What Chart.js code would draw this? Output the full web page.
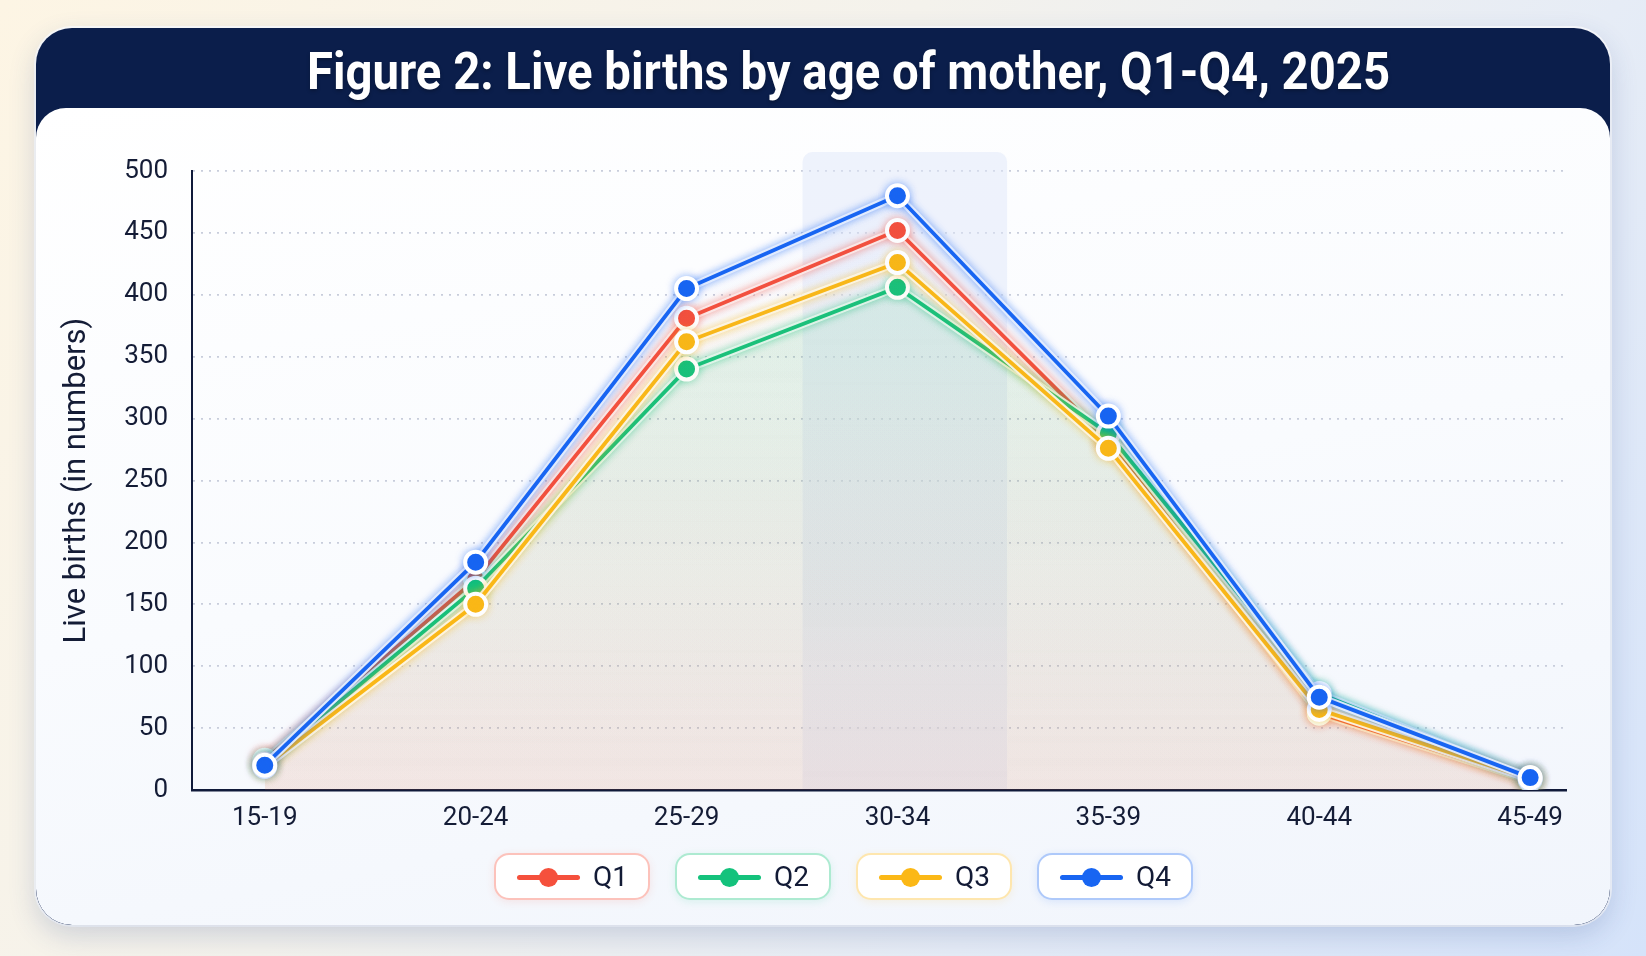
<!DOCTYPE html>
<html>
<head>
<meta charset="utf-8">
<script src="https://cdn.jsdelivr.net/npm/chart.js@4.4.1/dist/chart.umd.min.js"></script>
<style>
  html, body { margin:0; padding:0; }
  body {
    width:1646px; height:956px; overflow:hidden; position:relative;
    background: linear-gradient(125deg, #fdf5e4 0%, #f4f2ec 40%, #e6ecf6 70%, #d5e3fa 100%);
    font-family: Roboto, "Noto Sans", sans-serif;
  }
  .card {
    position:absolute; left:36px; top:28px; width:1574px; height:897px;
    border-radius:36px; background:#0b1e4b;
    box-shadow: 0 10px 28px rgba(40,70,140,0.20), 0 0 0 2px rgba(255,255,255,0.85);
    overflow:hidden;
  }
  .title {
    position:absolute; left:0; right:0; top:0; height:80px;
    display:flex; align-items:center; justify-content:center;
  }
  .title span {
    display:inline-block; color:#fff; font-weight:700; font-size:52px;
    font-family: Roboto, "Noto Sans", sans-serif; white-space:nowrap;
    transform-origin:center center; position:relative; left:26px; top:3px;
    text-shadow: 0 2px 4px rgba(0,0,0,0.25);
  }
  .panel {
    position:absolute; left:0; right:0; top:80px; bottom:0;
    border-radius:30px 30px 36px 36px;
    background: linear-gradient(170deg, #ffffff 0%, #f9fbfe 50%, #f1f5fc 100%);
  }
  #chartWrap { position:absolute; left:0; top:0; width:1646px; height:956px; }
  #legend {
    position:absolute; left:494px; top:853px; height:47px;
    display:flex; gap:25px;
  }
  .pill {
    box-sizing:border-box; height:47px; border-radius:15px; background:#fff;
    display:flex; align-items:center; padding:0 20px 0 21px;
    font-size:28px; color:#121a35;
  }
  .sample { position:relative; width:63px; height:22px; margin-right:13px; }
  .sample .ln { position:absolute; left:0; right:0; top:9px; height:5px; border-radius:3px; }
  .sample .dt { position:absolute; left:22px; top:2px; width:19px; height:19px; border-radius:50%; }
</style>
</head>
<body>
<div class="card">
  <div class="title"><span id="titleText">Figure 2: Live births by age of mother, Q1-Q4, 2025</span></div>
  <div class="panel"></div>
</div>
<div id="chartWrap"><canvas id="c" width="1646" height="956"></canvas></div>
<div id="legend"></div>
<script>
// ---- data ----
const ageGroups = ["15-19", "20-24", "25-29", "30-34", "35-39", "40-44", "45-49"];
const q1 = [24, 170, 381, 452, 282, 62, 8];
const q2 = [21, 163, 340, 406, 288, 78, 9];
const q3 = [19, 150, 362, 426, 276, 65, 9];
const q4 = [20, 184, 405, 480, 302, 75, 10];
const seriesNames = ["Q1", "Q2", "Q3", "Q4"];
const yTicks = [0, 50, 100, 150, 200, 250, 300, 350, 400, 450, 500];
const highlightGroup = "30-34";

const colors = ["#f5503c", "#14c27c", "#fbb816", "#1865f2"];
const seriesValues = [q1, q2, q3, q4];
// fill tint: [alpha at top of plot, alpha at bottom of plot]
const fillAlpha = [[0.00, 0.10], [0.12, 0.02], [0.03, 0.02], [0.015, 0.0]];

function hexA(hex, a) {
  const n = parseInt(hex.slice(1), 16);
  return `rgba(${(n>>16)&255},${(n>>8)&255},${n&255},${a})`;
}

// title fit
const tEl = document.getElementById('titleText');
function fitTitle(){ const w = tEl.offsetWidth; tEl.style.transform = `scaleX(${1083 / w})`; }
fitTitle();

const datasets = seriesValues.map((vals, si) => ({
  label: seriesNames[si],
  data: vals.map((v, i) => ({ x: i, y: v })),
  borderColor: colors[si],
  borderWidth: 3.8,
  tension: 0,
  pointRadius: 10.5,
  pointHoverRadius: 10.5,
  pointBorderWidth: 4,
  pointBorderColor: "#ffffff",
  pointBackgroundColor: colors[si],
  fill: 'origin',
  backgroundColor: (ctx) => {
    const ch = ctx.chart; const ca = ch.chartArea;
    if (!ca) return hexA(colors[si], 0.03);
    const g = ch.ctx.createLinearGradient(0, ca.top + 60, 0, ca.bottom);
    g.addColorStop(0, hexA(colors[si], fillAlpha[si][0]));
    g.addColorStop(1, hexA(colors[si], fillAlpha[si][1]));
    return g;
  },
  order: 4 - si
}));

const glowPlugin = {
  id: 'glow',
  beforeDatasetsDraw(chart) {
    const { ctx, chartArea: ca, scales: { x } } = chart;
    const idx = ageGroups.indexOf(highlightGroup);
    const l = x.getPixelForValue(idx - 0.45), r = x.getPixelForValue(idx + 0.52);
    const top = ca.top - 19, bottom = ca.bottom - 1;
    ctx.save();
    ctx.fillStyle = 'rgba(224,231,250,0.5)';
    ctx.beginPath();
    if (ctx.roundRect) ctx.roundRect(l, top, r - l, bottom - top, [10, 10, 0, 0]);
    else ctx.rect(l, top, r - l, bottom - top);
    ctx.fill();
    ctx.restore();
  },
  beforeDatasetDraw(chart, args) {
    const { ctx } = chart;
    const meta = args.meta;
    const col = colors[args.index];
    ctx.save();
    ctx.shadowColor = hexA(col, 0.42);
    ctx.shadowBlur = 9;
    ctx.save();
    ctx.strokeStyle = 'rgba(255,255,255,0.95)';
    ctx.lineWidth = 8;
    ctx.lineJoin = 'round';
    ctx.beginPath();
    meta.data.forEach((p, i) => { if (i === 0) ctx.moveTo(p.x, p.y); else ctx.lineTo(p.x, p.y); });
    ctx.stroke();
    ctx.restore();
  },
  afterDatasetDraw(chart) {
    chart.ctx.restore();
  }
};

const chart = new Chart(document.getElementById('c'), {
  type: 'line',
  data: { datasets },
  plugins: [glowPlugin],
  options: {
    responsive: false,
    animation: false,
    events: [],
    layout: { padding: { left: 57, top: 171, right: 80, bottom: 106 } },
    plugins: { legend: { display: false }, tooltip: { enabled: false }, title: { display: false } },
    scales: {
      x: {
        type: 'linear',
        min: -0.345, max: 6.17,
        afterBuildTicks: (s) => { s.ticks = ageGroups.map((g, i) => ({ value: i })); },
        afterFit: (s) => { s.height = 60; },
        ticks: {
          callback: (v) => ageGroups[v],
          color: '#141c36',
          font: { family: 'Roboto', size: 26 },
          padding: 13,
          maxRotation: 0, autoSkip: false
        },
        grid: { display: false, drawTicks: false },
        border: { display: true, color: '#101a3a', width: 2.5 }
      },
      y: {
        min: 0, max: 500,
        afterBuildTicks: (s) => { s.ticks = yTicks.map(v => ({ value: v })); },
        afterFit: (s) => { s.width = 135; },
        ticks: {
          color: '#141c36',
          font: { family: 'Roboto', size: 26 },
          padding: 24
        },
        grid: {
          drawTicks: false,
          color: (c) => c.tick && c.tick.value === 0 ? 'rgba(0,0,0,0)' : '#c8cddb',
          lineWidth: 1.8
        },
        border: { display: true, color: '#101a3a', width: 2, dash: [2, 6] },
        title: {
          display: true,
          text: 'Live births (in numbers)',
          color: '#141c36',
          font: { family: 'Roboto', size: 31 },
          padding: { top: 2, bottom: 0 }
        }
      }
    }
  }
});

// HTML legend built from the chart's datasets
const legendEl = document.getElementById('legend');
chart.data.datasets.forEach((ds) => {
  const col = ds.borderColor;
  const pill = document.createElement('div');
  pill.className = 'pill';
  pill.style.border = `2px solid ${hexA(col, 0.35)}`;
  pill.style.boxShadow = `0 2px 8px ${hexA(col, 0.12)}`;
  pill.innerHTML = `<div class="sample"><div class="ln" style="background:${col}"></div><div class="dt" style="background:${col}"></div></div><span>${ds.label}</span>`;
  legendEl.appendChild(pill);
});
</script>
</body>
</html>
